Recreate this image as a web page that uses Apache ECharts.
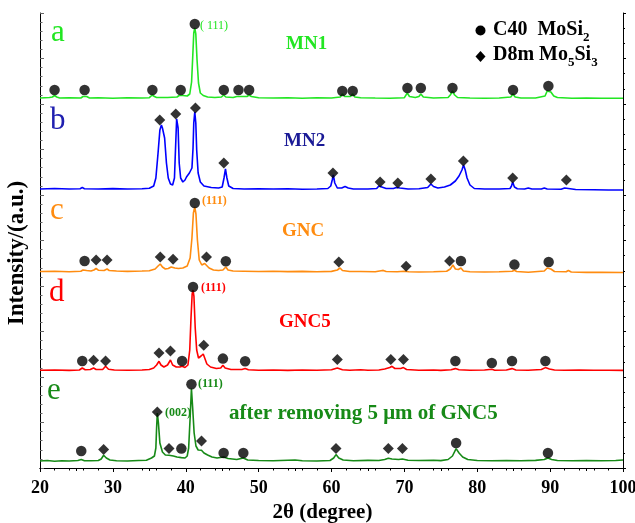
<!DOCTYPE html>
<html><head><meta charset="utf-8">
<script src="https://cdn.jsdelivr.net/npm/echarts@6/dist/echarts.min.js"></script>
<style>html,body{margin:0;padding:0;background:#fff}#c{width:635px;height:523px}</style>
</head><body><div id="c"></div>
<script>
// 2θ (degree) vs intensity (a.u., stacked with offsets as in the figure)
const xTicks = [20,30,40,50,60,70,80,90,100];
const traceA = [[20,370],[21.3,370.5],[21.7,371],[22.0,372.5],[22.3,371],[22.7,370],[24,370.3],[25.6,370],[25.9,371.5],[26.1,373],[26.4,371.5],[26.8,370],[28,370.2],[30,369.8],[32,370.3],[34,370],[35,370.3],[35.2,371.5],[35.4,373],[35.7,371.5],[36,370.5],[37.5,370.5],[38.8,371],[39.1,372.5],[39.3,374],[39.6,372.5],[40.2,372],[40.55,374],[40.8,386],[40.95,410],[41.1,435],[41.24,440],[41.38,434],[41.55,408],[41.75,385],[42.0,375],[42.4,372.5],[43,371],[44,370.5],[44.9,371],[45.2,373],[45.5,371],[46.5,370.5],[47,371.5],[47.2,373],[47.5,371.5],[48.4,371.5],[48.7,373],[49,371.5],[50,370.3],[52,370],[54,370.3],[56,369.8],[58,370.2],[60,370],[61.2,371],[61.5,374],[61.8,371.5],[62.6,371.5],[62.9,374],[63.2,371],[64,370.3],[66,370],[68,369.8],[70,370.3],[70.1,371.5],[70.4,375],[70.7,371.5],[71.5,370.5],[72,371.5],[72.26,374],[72.6,371],[74,370],[76,370.5],[76.3,373],[76.6,377],[76.9,373],[77.3,370.5],[79,370],[81,369.8],[83,370],[84.6,371],[84.9,374],[85.2,371],[86,370],[88,370],[89.3,372],[89.6,377],[89.8,379],[90.1,376],[90.5,372],[91,370.5],[93,369.8],[95,370],[97,369.7],[100,369.8]];
const traceB = [[20,279],[22,279.5],[24,279],[25.5,279.3],[25.8,280.5],[26.1,279.3],[28,279],[30,279.4],[32,279],[34,279.3],[35,279.8],[35.6,282],[35.9,290],[36.2,315],[36.45,338],[36.66,343],[36.8,340],[36.95,341],[37.1,330],[37.35,305],[37.6,290],[37.9,284],[38.2,283],[38.45,290],[38.6,320],[38.75,349],[38.85,351],[38.95,340],[39.1,305],[39.3,290],[39.6,286],[39.9,288],[40.1,291],[40.3,290],[40.5,295],[40.7,297],[40.85,300],[41.0,320],[41.1,345],[41.24,356],[41.38,345],[41.5,318],[41.7,295],[42,286],[42.5,282],[43.5,280.5],[44.5,280],[45.0,281],[45.25,290],[45.45,299],[45.65,290],[45.9,282],[46.5,279.5],[48,279],[50,279.3],[52,279],[54,279.2],[56,278.8],[58,279],[59.5,279.5],[59.9,282],[60.1,288],[60.25,293],[60.45,285],[60.8,280],[61.4,280],[61.86,281.5],[62.3,280],[63,279],[65,279],[66.2,279.5],[66.5,282],[66.67,284],[66.9,281],[67.5,279.5],[68.5,279.5],[68.9,280.5],[69.1,281.5],[69.4,280],[70.5,279],[72,279.2],[73.2,280.5],[73.64,284],[74.0,281.5],[74.6,280],[75.5,281],[76.3,283],[77,287],[77.5,292],[77.9,298],[78.12,303],[78.35,298],[78.6,290],[79,283],[79.6,279.5],[81,279],[83,279],[84.5,279.5],[84.7,282],[84.86,286],[85.1,281],[85.5,279.3],[86.5,279],[87.0,280],[87.5,279],[88.8,279],[89.2,280],[89.6,279],[91.5,278.8],[92.0,280],[92.23,282],[92.5,279.5],[93.5,278.5],[96,278.3],[98,278],[100,278]];
const traceC = [[20,196.5],[22,196.8],[24,196.3],[25.6,196.8],[25.9,198],[26.12,199],[26.4,197.5],[27.0,197],[27.4,198],[27.7,199.5],[28.0,197.8],[28.8,197.5],[29.2,199],[29.5,197.5],[30.5,197],[32,196.6],[34,197],[35,197.3],[35.8,199],[36.2,202],[36.5,204],[36.8,201],[37.2,199],[37.6,199.5],[38.0,201],[38.26,202],[38.5,200],[39,199.5],[39.6,200],[40.2,202],[40.6,210],[40.85,230],[41.05,255],[41.24,261],[41.4,254],[41.6,228],[41.85,208],[42.2,203],[42.6,204.5],[42.85,204],[43.2,200],[43.8,198],[44.5,197.5],[45.1,198],[45.5,201],[45.8,198],[46.5,197],[48,196.8],[50,196.5],[52,196.8],[54,196.4],[56,196.6],[58,196.3],[60,196.6],[60.8,198],[61.17,200],[61.5,197.5],[62.5,196.5],[64,196.5],[66,196.2],[66.8,197.3],[67.1,197.6],[67.5,196.5],[69,196.2],[70,196.8],[70.24,197.5],[70.6,196.3],[72,196],[74,196.2],[75.8,196.8],[76.3,199],[76.66,203],[77.0,199],[77.4,198.5],[77.76,200],[78.1,197],[79,196.2],[81,196],[83,196.2],[84.8,196.8],[85.1,197.8],[85.4,196.5],[87,195.8],[89.2,197],[89.6,200],[89.8,201],[90.1,199],[90.6,196.5],[92.2,196.2],[92.5,197.5],[92.9,196],[95,195.6],[97,195.8],[100,195.5]];
const traceD = [[20,97.7],[22,98],[24,97.6],[25.4,98],[25.8,100],[26.2,98.3],[26.9,98.5],[27.35,100],[27.7,98.5],[28.6,98.5],[29.0,101.7],[29.4,98.8],[30.2,98],[32,97.8],[34,98],[35,98.5],[35.6,100],[36.0,103],[36.33,106.7],[36.6,103],[37.0,101],[37.5,103],[37.9,108],[38.2,103],[38.7,101],[39.2,101],[39.5,101.7],[39.9,100.5],[40.3,103],[40.55,118],[40.72,150],[40.88,174],[41.0,178],[41.12,172],[41.3,140],[41.5,118],[41.75,110],[42.1,112],[42.4,114],[42.6,110],[42.9,104],[43.4,101],[44.2,99.5],[44.8,100],[45.1,102.7],[45.4,100],[46.2,98.5],[47.7,98.5],[48.15,99.4],[48.6,98.2],[50,97.8],[52,98],[54,97.6],[56,98],[58,97.7],[60,98.2],[60.8,100],[61.5,98.3],[62.5,97.8],[64,98.2],[65,97.7],[66.5,98],[67.3,99],[68.0,100.5],[68.3,101.7],[68.7,99.5],[69.5,99.5],[69.87,100.4],[70.3,98.5],[72,97.8],[74,98],[75,97.6],[76.4,98.3],[77.0,99.4],[77.5,98.2],[79,97.7],[81,98],[82.0,98.8],[82.4,97.8],[84,98],[84.77,99.4],[85.3,98],[87,97.8],[88.8,98.5],[89.35,100.4],[89.9,99],[90.6,98],[92,97.8],[94,98],[96,97.7],[98,97.8],[100,97.6]];
const traceE = [[20,7],[21,7.5],[22,6.8],[23,7.3],[24,7],[25.2,7.5],[25.66,8.6],[26.1,7.3],[27,7.2],[28,7.5],[28.4,9],[28.73,12.7],[29.1,10],[29.6,8],[30.5,7.3],[32,7],[33.5,7.5],[34.6,7.8],[34.8,9.5],[35.3,10],[35.7,12],[35.9,20],[36.0,40],[36.1,55],[36.25,45],[36.45,25],[36.8,16],[37.2,13],[37.7,12.7],[38.3,12],[38.8,11],[39.4,10.4],[39.9,10],[40.2,12],[40.4,20],[40.6,50],[40.78,79.4],[40.95,60],[41.15,35],[41.4,22],[41.7,18],[42.16,17.7],[42.5,15],[43,13],[43.6,11],[44.3,10],[45.2,11],[45.8,9.5],[47,8.5],[47.9,10],[48.5,8],[50,7.5],[52,7.2],[54,7.8],[55,8],[56,7.3],[58,7],[59.8,7.5],[60.3,10],[60.62,13.4],[61.0,10],[61.6,8],[63,7.3],[65,7.6],[66.5,7.5],[67.3,8.5],[67.8,9.8],[68.3,9],[69.2,8.5],[69.73,9],[70.5,7.8],[72,7.5],[74,7.8],[75,7.4],[76,8.5],[76.6,12],[77.1,19.4],[77.5,15],[78,11],[78.7,8.5],[80,7.5],[82,7.2],[84,7.5],[86,7.2],[88,7.6],[89.2,8.5],[89.7,10],[90.2,8.5],[91,7.5],[93,7.2],[95,7.5],[97,7.2],[99,7.5],[100,8]];
// phase markers
const c40Markers = [[22.0,378],[26.12,378],[35.42,378],[39.31,378],[41.24,444],[45.22,378],[47.24,378],[48.7,378],[61.48,377],[62.91,377],[70.42,380],[72.26,380],[76.6,380],[84.91,378],[89.76,382],
  [26.12,207],[41.24,265],[45.5,206.7],[77.76,207],[85.1,203.4],[89.8,206],
  [25.8,107],[39.5,107],[41.0,181],[45.1,109.4],[48.15,106.7],[77.0,107],[82.0,105],[84.77,107],[89.35,107],
  [25.66,17],[39.4,19.4],[40.78,83.7],[45.2,15],[47.9,15],[77.1,25],[89.7,15]];
const d8mMarkers = [[36.43,348],[38.63,354],[41.33,360],[45.22,305],[60.2,295],[66.67,286],[69.1,285],[73.64,289],[78.1,307],[84.86,290],[92.23,288],
  [27.7,208],[29.2,208],[36.5,211],[38.26,208.7],[42.85,211],[61.0,206],[70.24,201.7],[76.2,207],
  [27.35,107.7],[29.0,107],[36.33,115],[37.9,117],[42.47,122.7],[60.8,108.4],[68.14,108.4],[69.87,108.4],
  [28.73,18.4],[36.1,56],[37.7,19.4],[42.16,27],[60.62,19.4],[67.8,19.4],[69.73,19.4]];

const F = '"Liberation Serif","Times New Roman",serif';
const chart = echarts.init(document.getElementById('c'), null, {renderer:'canvas'});
function lineS(data, color){return {type:'line', data, showSymbol:false, symbol:'none', lineStyle:{color, width:1.6}, itemStyle:{color}, animation:false, z:2};}
function txt(x,y,text,size,color,weight,extra){return Object.assign({type:'text', x, y, z:10, style:{text, fontSize:size, fontFamily:F, fontWeight:weight||'bold', fill:color, verticalAlign:'middle', align:'left'}}, extra||{});}
const subRich = {n:{fontSize:20, fontFamily:F, fontWeight:'bold', fill:'#000', lineHeight:28}, s:{fontSize:13, fontFamily:F, fontWeight:'bold', fill:'#000', lineHeight:13, verticalAlign:'bottom'}};
chart.setOption({
  animation:false,
  grid:{left:40, right:12, top:13, bottom:55, outerBoundsMode:'none', containLabel:false},
  xAxis:[
    {type:'value', min:20, max:100, interval:10, position:'bottom',
     axisLine:{show:true, lineStyle:{color:'#000', width:1}},
     axisTick:{show:true, inside:false, length:4, lineStyle:{color:'#000'}},
     minorTick:{show:true, splitNumber:5, length:2.5, lineStyle:{color:'#000'}},
     axisLabel:{color:'#000', fontSize:18, fontWeight:'bold', fontFamily:F, margin:11},
     splitLine:{show:false},
     name:'2θ (degree)', nameLocation:'middle', nameGap:33,
     nameTextStyle:{fontSize:21, fontWeight:'bold', fontFamily:F, color:'#000', padding:[0,18,0,0]}},
    {type:'value', min:20, max:100, interval:5, position:'top',
     axisLine:{show:true, lineStyle:{color:'#000', width:1}},
     axisTick:{show:true, inside:true, length:3, lineStyle:{color:'#000'}},
     axisLabel:{show:false}, splitLine:{show:false}}
  ],
  yAxis:[
    {type:'value', min:0, max:455, interval:45.5, position:'left',
     axisLine:{show:true, lineStyle:{color:'#000', width:1}},
     axisTick:{show:true, inside:true, length:4, lineStyle:{color:'#666'}},
     minorTick:{show:true, splitNumber:5, length:2.5, lineStyle:{color:'#666'}},
     axisLabel:{show:false}, splitLine:{show:false}},
    {type:'value', min:0, max:455, interval:45.5, position:'right',
     axisLine:{show:true, lineStyle:{color:'#000', width:1}},
     axisTick:{show:true, inside:false, length:3, lineStyle:{color:'#000'}},
     minorTick:{show:true, splitNumber:3, length:2, lineStyle:{color:'#000'}},
     axisLabel:{show:false}, splitLine:{show:false}}
  ],
  series:[
    lineS(traceA,'#22e622'), lineS(traceB,'#0000ff'), lineS(traceC,'#ff8c10'), lineS(traceD,'#ff0000'), lineS(traceE,'#178a17'),
    {type:'scatter', name:'C40 MoSi2', data:c40Markers, symbol:'circle', symbolSize:10.5, itemStyle:{color:'#000'}, z:5},
    {type:'scatter', name:'D8m Mo5Si3', data:d8mMarkers, symbol:'diamond', symbolSize:11, itemStyle:{color:'#000'}, z:5}
  ],
  graphic:[
    {type:'text', x:17, y:253, rotation:Math.PI/2, z:10, style:{text:'Intensity/(a.u.)', fontSize:23, fontFamily:F, fontWeight:'bold', fill:'#000', align:'center', verticalAlign:'middle'}},
    txt(51,33,'a',31,'#22e622','normal'),
    txt(50,121,'b',31,'#2020b0','normal'),
    txt(50,211,'c',31,'#ff8c10','normal'),
    txt(49,293,'d',31,'#ff0000','normal'),
    txt(47,391,'e',31,'#178a17','normal'),
    txt(286,44,'MN1',19,'#22e622'),
    txt(284,141,'MN2',19,'#1a1a96'),
    txt(282,231,'GNC',19,'#ff8c10'),
    txt(279,322,'GNC5',19,'#ff0000'),
    txt(229,414,'after removing 5 μm of GNC5',21,'#178a17'),
    txt(200,26,'( 111)',12,'#22e622','normal'),
    txt(202,201,'(111)',12,'#ff8c10'),
    txt(201,288,'(111)',12,'#ff0000'),
    txt(198,384,'(111)',12,'#178a17'),
    txt(165,412.5,'(002)',12,'#178a17'),
    {type:'circle', shape:{cx:480.5, cy:30.5, r:5}, style:{fill:'#000'}, z:10},
    {type:'polygon', shape:{points:[[480.5,51],[485.5,56.5],[480.5,62],[475.5,56.5]]}, style:{fill:'#000'}, z:10},
    {type:'text', x:493, y:30, z:10, style:{text:'{n|C40  MoSi}{s|2}', rich:subRich, verticalAlign:'middle'}},
    {type:'text', x:493, y:55, z:10, style:{text:'{n|D8m Mo}{s|5}{n|Si}{s|3}', rich:subRich, verticalAlign:'middle'}}
  ]
});
</script></body></html>
